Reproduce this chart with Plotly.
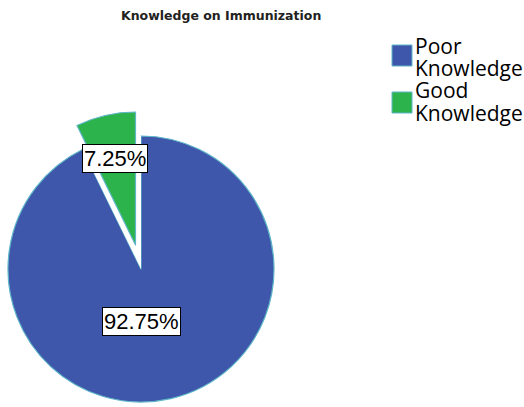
import plotly.graph_objects as go

# ---- data ----
categories = ["Poor Knowledge", "Good Knowledge"]
legend_lines = [["Poor", "Knowledge"], ["Good", "Knowledge"]]
values = [92.75, 7.25]
pct_labels = ["92.75%", "7.25%"]
title_text = "Knowledge on Immunization"

BLUE = "#3e57aa"
GREEN = "#2db34b"
EDGE = "#5fb6c9"
W, H = 524, 407

def px_x(x):
    return x / W

def px_y(y):
    return (H - y) / H

# main pie (green slice left as a white gap)
cx, cy, r = 141, 269, 133
dom_x = [px_x(cx - r), px_x(cx + r)]
dom_y = [px_y(cy + r), px_y(cy - r)]
# exploded slice offset (pixels)
ox, oy = -5.5, -24

fig = go.Figure()
fig.add_trace(go.Pie(
    labels=categories, values=values, sort=False, direction="clockwise", rotation=0,
    marker=dict(colors=[BLUE, "white"], line=dict(color=[EDGE, "white"], width=[1.2, 0])),
    textinfo="none", hoverinfo="label+percent", showlegend=False,
    domain=dict(x=dom_x, y=dom_y),
))
fig.add_trace(go.Pie(
    labels=categories, values=values, sort=False, direction="clockwise", rotation=0,
    marker=dict(colors=["rgba(0,0,0,0)", GREEN], line=dict(color=["rgba(0,0,0,0)", EDGE], width=[0, 1.2])),
    textinfo="none", hoverinfo="label+percent", showlegend=False,
    domain=dict(x=[d + ox / W for d in dom_x], y=[d - oy / H for d in dom_y]),
))

annotations = []
# percentage labels
label_pos = [(141.5, 321.5), (114.5, 159)]
for txt, (lx, ly) in zip(pct_labels, label_pos):
    annotations.append(dict(
        x=px_x(lx), y=px_y(ly), xref="paper", yref="paper", text=txt, showarrow=False,
        font=dict(family="Liberation Sans, Arial", size=22, color="black"),
        bgcolor="white", bordercolor="black", borderwidth=1, borderpad=1,
        xanchor="center", yanchor="middle",
    ))

# title
annotations.append(dict(
    x=px_x(221), y=px_y(15), xref="paper", yref="paper", text="<b>" + title_text + "</b>",
    showarrow=False, font=dict(family="DejaVu Sans", size=12.5, color="#222222"),
    xanchor="center", yanchor="middle",
))

# manual legend
shapes = []
colors = [BLUE, GREEN]
sq_tops = [45, 92]
line_centers = [[45.5, 68], [90, 112.5]]
for i in range(len(categories)):
    shapes.append(dict(
        type="rect", xref="paper", yref="paper",
        x0=px_x(392), x1=px_x(412), y0=px_y(sq_tops[i] + 21), y1=px_y(sq_tops[i]),
        fillcolor=colors[i], line=dict(color=EDGE, width=1),
    ))
    for line, yc in zip(legend_lines[i], line_centers[i]):
        annotations.append(dict(
            x=px_x(413), y=px_y(yc), xref="paper", yref="paper", text=line, showarrow=False,
            font=dict(family="Open Sans", size=21, color="black"),
            xanchor="left", yanchor="middle",
        ))

fig.update_layout(
    width=W, height=H,
    margin=dict(l=0, r=0, t=0, b=0),
    paper_bgcolor="white", plot_bgcolor="white",
    annotations=annotations, shapes=shapes,
    showlegend=False,
)

fig.write_html("out.html", config={"displayModeBar": False},
               post_script="document.body.style.margin='0';document.body.style.padding='0';")
